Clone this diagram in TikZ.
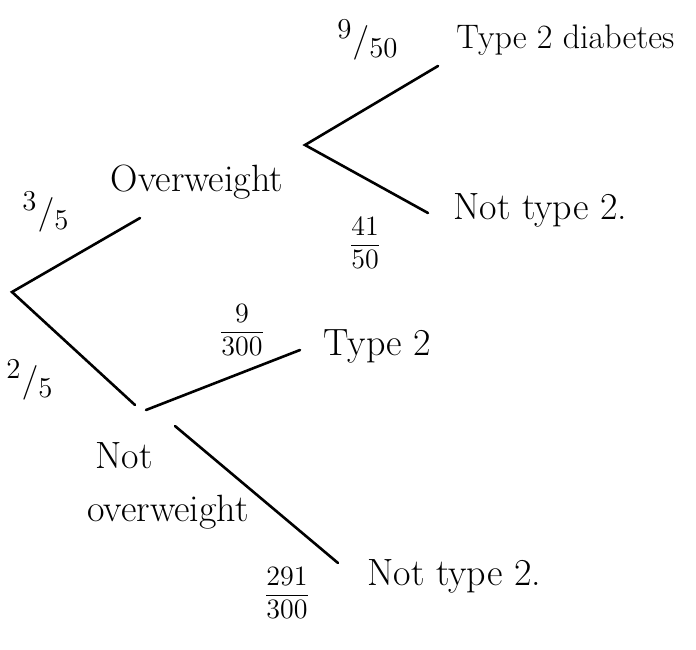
\documentclass[tikz,border=0pt]{standalone}
\newcommand{\stackfrac}[2]{\begin{tabular}{@{}c@{}}#1\\[1pt]\hline\rule{0pt}{11pt}#2\end{tabular}}
\begin{document}
\begin{tikzpicture}[x=0.5pt, y=-0.5pt, line width=1.3pt, font=\fontsize{19}{23}\selectfont,
  branch/.style={draw, line cap=round},
  prob/.style={inner sep=1pt},
  stacked/.style={inner sep=1pt, font=\fontsize{14}{14}\selectfont},
  leaf/.style={anchor=west, inner sep=1pt}]
\useasboundingbox (0,0) rectangle (696,649);
% first stage
\coordinate (root) at (12,292);
\coordinate (ow) at (140,218);
\coordinate (now) at (135,405);
\draw[branch] (ow) -- (root) -- (now);
\node (owlab) at (197,182) {Overweight};
\node (notlab) at (124,456) {Not};
\node (nowlab) at (168,512) {overweight};
\node[prob] (p3of5) at (46,212) {$^{3}/_{5}$};
\node[prob] (p2of5) at (30,380) {$^{2}/_{5}$};
% overweight
\coordinate (owsplit) at (305,145);
\coordinate (owt2) at (438,66);
\coordinate (ownot) at (428,213);
\draw[branch] (owt2) -- (owsplit) -- (ownot);
\node[leaf, font=\fontsize{17}{20}\selectfont] (t2a) at (453,40) {Type 2 diabetes};
\node[leaf] (nt2a) at (450,210) {Not type 2.};
\node[prob] (p9of50) at (368,40) {$^{9}/_{50}$};
\node[stacked] (p41of50) at (365,246) {\stackfrac{41}{50}};
% not overweight
\coordinate (nowa) at (146,410);
\coordinate (nowb) at (175,426);
\coordinate (nowt2) at (300,350);
\coordinate (nownot) at (338,563);
\draw[branch] (nowa) -- (nowt2);
\draw[branch] (nowb) -- (nownot);
\node[leaf] (t2b) at (320,346) {Type 2};
\node[leaf] (nt2b) at (364,576) {Not type 2.};
\node[stacked] (p9of300) at (242,333) {\stackfrac{9}{300}};
\node[stacked] (p291of300) at (287,596) {\stackfrac{291}{300}};
\end{tikzpicture}
\end{document}
